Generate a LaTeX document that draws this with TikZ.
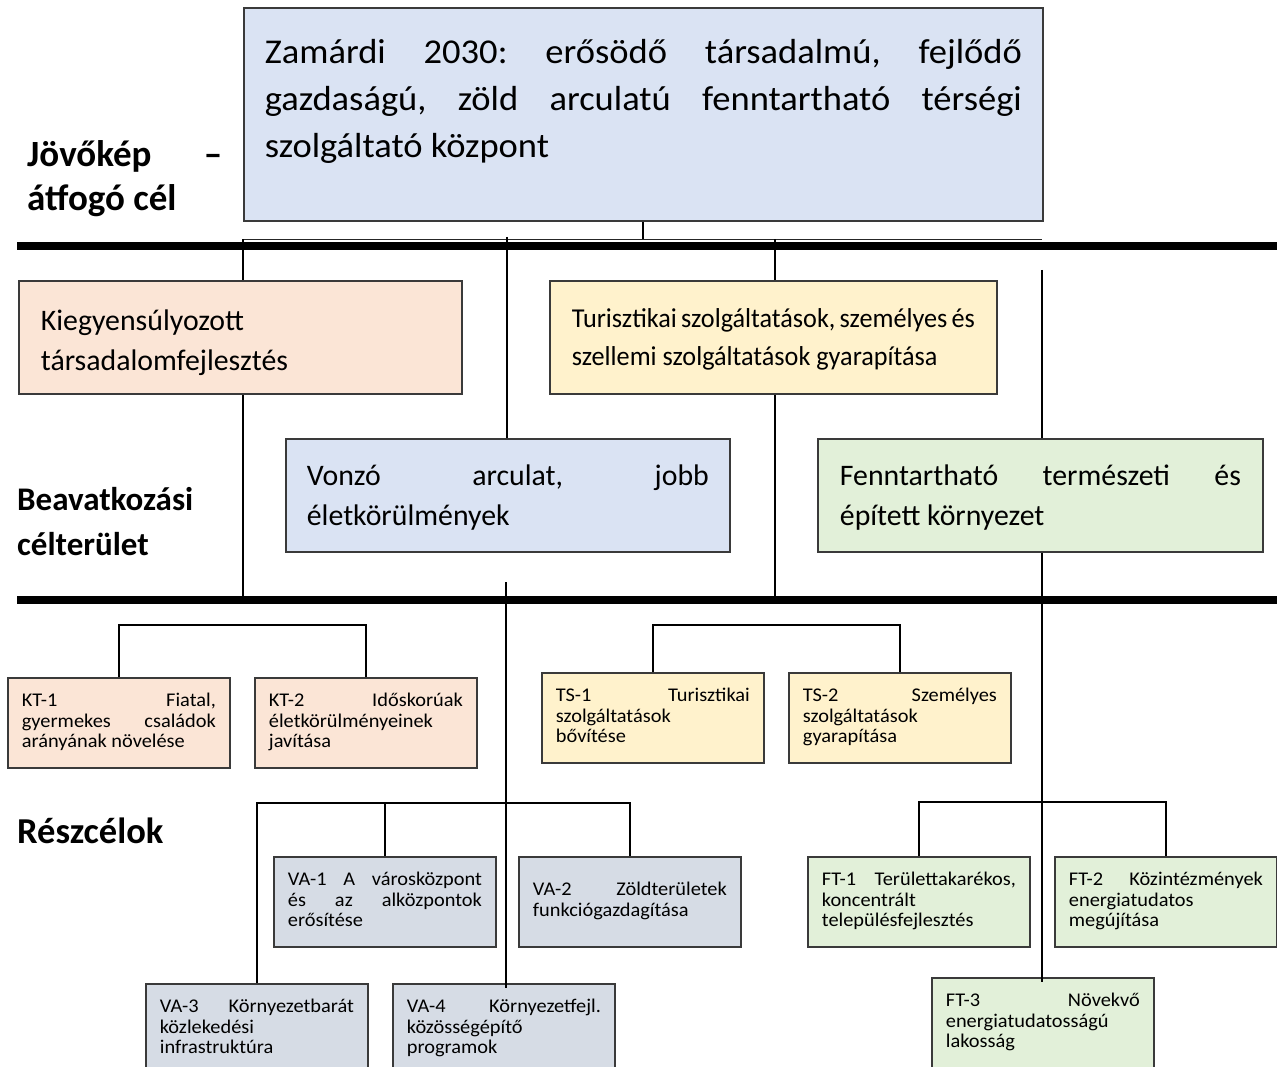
\documentclass[tikz,border=0pt]{standalone}
\usepackage{fontspec}
\setmainfont{Carlito}
\newfontfamily\widefont[FakeStretch=1.05]{Carlito}
\newfontfamily\condfont[FakeStretch=0.96]{Carlito}
\frenchspacing
\newcommand\jline[1]{\hbox to \hsize{\strut #1}}
\newcommand\lline[1]{\hbox to \hsize{\strut #1\hfil}}
\newcommand\smtext[1]{\vbox{\hsize=194pt \widefont\fontsize{19.4}{20.5}\selectfont #1}}
\newcommand\midtext[2]{\vbox{\hsize=#1 \fontsize{29.8}{40}\selectfont #2}}
\definecolor{cBlue}{HTML}{DAE3F3}
\definecolor{cPink}{HTML}{FBE5D6}
\definecolor{cYellow}{HTML}{FFF2CC}
\definecolor{cGreen}{HTML}{E2F0D9}
\definecolor{cGray}{HTML}{D6DCE5}
\definecolor{boxline}{HTML}{3A3A3A}
\tikzset{
  bx/.style={draw=boxline, line width=1.8pt, inner sep=0pt, anchor=north west, rectangle},
  sm/.style={bx, minimum width=222pt, minimum height=90pt},
  mid/.style={bx, minimum height=113pt},
  lbl/.style={inner sep=0pt, anchor=base west},
  conn/.style={draw=black, line width=2pt},
  thinline/.style={draw=black!85, line width=1.5pt},
  bar/.style={draw=black, line width=8pt},
}
\begin{document}
\begin{tikzpicture}[x=1pt, y=-1pt]
\useasboundingbox (0,0) rectangle (1277,1067);
\fill[white] (0,0) rectangle (1277,1067);

% left labels
\node[lbl] (jovo) at (27,167) {\vtop{\hsize=195pt \fontsize{37}{44}\selectfont\bfseries \jline{Jövőkép –}\lline{átfogó cél}}};
\node[lbl] (beav) at (17,510) {\vtop{\hsize=200pt \fontsize{33}{45}\selectfont\bfseries \lline{Beavatkozási}\lline{célterület}}};
\node[lbl] (resz) at (17,843) {\vtop{\hsize=200pt \fontsize{36.5}{45}\selectfont\bfseries \lline{Részcélok}}};

% vision box
\node[bx, fill=cBlue, minimum width=799pt, minimum height=213pt] (vision) at (243,7)
  {\vbox{\hsize=757pt \widefont\fontsize{34.8}{47}\selectfont
   \jline{Zamárdi 2030: erősödő társadalmú, fejlődő}
   \jline{gazdaságú, zöld arculatú fenntartható térségi}
   \lline{szolgáltató központ}\vskip 25.8pt}};

% intervention areas
\node[mid, fill=cPink, minimum width=443pt] (kiegy) at (18,280)
  {\midtext{399pt}{\vskip 11pt\lline{Kiegyensúlyozott}\lline{társadalomfejlesztés}}};
\node[mid, fill=cYellow, minimum width=447pt] (turiszt) at (549,280)
  {\vbox{\hsize=403pt \condfont\fontsize{27.3}{38}\selectfont \vskip 3pt
   \lline{Turisztikai szolgáltatások, személyes és}\lline{szellemi szolgáltatások gyarapítása}}};
\node[mid, fill=cBlue, minimum width=444pt] (vonzo) at (285,438)
  {\midtext{402pt}{\vskip 5pt\jline{Vonzó arculat, jobb}\lline{életkörülmények}}};
\node[mid, fill=cGreen, minimum width=445pt] (fennt) at (817,438)
  {\midtext{401pt}{\vskip 5pt\jline{Fenntartható természeti és}\lline{épített környezet}}};

% sub-goals
\node[sm, fill=cPink] (kt1) at (7,677) {\smtext{\jline{KT-1 Fiatal,}\jline{gyermekes családok}\lline{arányának növelése}}};
\node[sm, fill=cPink] (kt2) at (254,677) {\smtext{\jline{KT-2 Időskorúak}\lline{életkörülményeinek}\lline{javítása}}};
\node[sm, fill=cYellow] (ts1) at (541,672) {\smtext{\jline{TS-1 Turisztikai}\lline{szolgáltatások}\lline{bővítése}}};
\node[sm, fill=cYellow] (ts2) at (788,672) {\smtext{\jline{TS-2 Személyes}\lline{szolgáltatások}\lline{gyarapítása}}};
\node[sm, fill=cGray] (va1) at (273,856) {\smtext{\jline{VA-1 A városközpont}\jline{és az alközpontok}\lline{erősítése}}};
\node[sm, fill=cGray] (va2) at (518,856) {\smtext{\jline{VA-2 Zöldterületek}\lline{funkciógazdagítása}}};
\node[sm, fill=cGray] (va3) at (145,983) {\smtext{\jline{VA-3 Környezetbarát}\lline{közlekedési}\lline{infrastruktúra}}};
\node[sm, fill=cGray] (va4) at (392,983) {\smtext{\jline{VA-4 Környezetfejl.}\lline{közösségépítő}\lline{programok}}};
\node[sm, fill=cGreen] (ft1) at (807,856) {\smtext{\jline{FT-1 Területtakarékos,}\lline{koncentrált}\lline{településfejlesztés}}};
\node[sm, fill=cGreen] (ft2) at (1054,856) {\smtext{\jline{FT-2 Közintézmények}\lline{energiatudatos}\lline{megújítása}}};
\node[sm, fill=cGreen] (ft3) at (931,977) {\smtext{\jline{FT-3 Növekvő}\lline{energiatudatosságú}\lline{lakosság}}};

% coordinates
\coordinate (h1L) at (243,239.5);
\coordinate (h1R) at (1042,239.5);
\coordinate (b1L) at (17,246.5);
\coordinate (b1R) at (1277,246.5);
\coordinate (b2L) at (17,600);
\coordinate (b2R) at (1277,600);
\coordinate (ts0) at (775,239.5);
\coordinate (vz0) at (507,237);
\coordinate (vz1) at (506,582);
\coordinate (gr0) at (1042,270);

% bars
\draw[bar] (b1L) -- (b1R);
\draw[bar] (b2L) -- (b2R);
\draw[thinline] (h1L) -- (h1R);

% connectors upper
\draw[conn] (vision.south) -- (vision.south |- h1L);
\draw[conn] (h1L) -- (h1L |- kiegy.north);
\draw[conn] (h1L |- kiegy.south) -- (h1L |- b2L);
\draw[conn] (vz0) -- (vz0 |- vonzo.north);
\draw[conn] (ts0) -- (ts0 |- turiszt.north);
\draw[conn] (ts0 |- turiszt.south) -- (ts0 |- b2L);
\draw[conn] (gr0) -- (gr0 |- fennt.north);
\draw[conn, shorten >=-5pt] (gr0 |- fennt.south) -- (gr0 |- ft3.north);
\draw[conn, shorten >=-5pt] (vz1) -- (vz1 |- va4.north);

% branches
\draw[conn] (kt1.north) -- ++(0,-52) -| (kt2.north);
\draw[conn] (ts1.north) -- ++(0,-47) -| (ts2.north);
\draw[conn] (va3.north) -- ++(0,-180) -| (va2.north);
\draw[conn] (va1.north) -- ++(0,-53);
\draw[conn] (ft1.north) -- ++(0,-54) -| (ft2.north);
\end{tikzpicture}
\end{document}
